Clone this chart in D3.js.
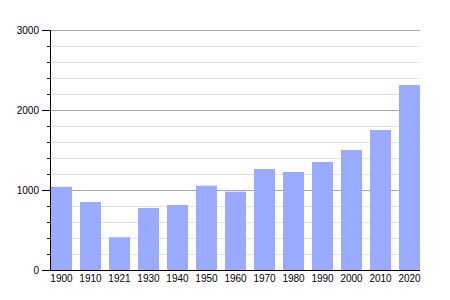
<!DOCTYPE html>
<html>
<head>
<meta charset="utf-8">
<script src="https://cdn.jsdelivr.net/npm/d3@7"></script>
<style>
  body { margin: 0; background: #fff; }
  text { font-family: "Liberation Sans", Arial, sans-serif; font-size: 10px; fill: #000; }
</style>
</head>
<body>
<svg id="chart" width="450" height="300"></svg>
<script>
const years = ['1900', '1910', '1921', '1930', '1940', '1950', '1960', '1970', '1980', '1990', '2000', '2010', '2020']
const population = [1040, 850, 410, 775, 812, 1054, 979, 1262, 1225, 1350, 1500, 1750, 2312]
const majorTicks = [0, 1000, 2000, 3000]

const svg = d3.select('#chart')
const plotLeft = 50, plotRight = 420, plotTop = 30, plotBottom = 270

const x = d3.scaleBand()
  .domain(years)
  .range([plotLeft + 1, plotRight])
  .paddingInner(0.276)
  .paddingOuter(0)

const y = d3.scaleLinear()
  .domain([0, 3000])
  .range([plotBottom, plotTop])

// minor grid every 200, major every 1000
const minor = d3.range(200, 3000, 200).filter(v => v % 1000 != 0)
svg.append('g')
  .selectAll('line')
  .data(minor)
  .join('line')
  .attr('x1', plotLeft).attr('x2', plotRight)
  .attr('y1', d => y(d) + 0.5).attr('y2', d => y(d) + 0.5)
  .attr('stroke', '#e2e2e2')

svg.append('g')
  .selectAll('line')
  .data(majorTicks.slice(1))
  .join('line')
  .attr('x1', plotLeft).attr('x2', plotRight)
  .attr('y1', d => y(d) + 0.5).attr('y2', d => y(d) + 0.5)
  .attr('stroke', '#a8a8a8')

// bars
svg.append('g')
  .selectAll('rect')
  .data(population)
  .join('rect')
  .attr('x', (d, i) => x(years[i]))
  .attr('y', d => y(d))
  .attr('width', x.bandwidth())
  .attr('height', d => plotBottom - y(d))
  .attr('fill', '#99aaff')

// y axis
svg.append('g')
  .selectAll('line')
  .data(minor)
  .join('line')
  .attr('x1', plotLeft - 3).attr('x2', plotLeft)
  .attr('y1', d => y(d) + 0.5).attr('y2', d => y(d) + 0.5)
  .attr('stroke', '#000')

const yAxis = svg.append('g')
yAxis.selectAll('line')
  .data(majorTicks)
  .join('line')
  .attr('x1', plotLeft - 8).attr('x2', plotLeft)
  .attr('y1', d => y(d) + 0.5).attr('y2', d => y(d) + 0.5)
  .attr('stroke', '#000')

yAxis.selectAll('text')
  .data(majorTicks)
  .join('text')
  .attr('x', plotLeft - 11)
  .attr('y', d => y(d))
  .attr('dy', '0.35em')
  .attr('text-anchor', 'end')
  .text(d => d)

svg.append('line')
  .attr('x1', plotLeft + 0.5).attr('x2', plotLeft + 0.5)
  .attr('y1', plotTop).attr('y2', plotBottom + 1)
  .attr('stroke', '#000')

svg.append('line')
  .attr('x1', plotLeft).attr('x2', plotRight)
  .attr('y1', plotBottom + 0.5).attr('y2', plotBottom + 0.5)
  .attr('stroke', '#000')

// x labels
svg.append('g')
  .selectAll('text')
  .data(years)
  .join('text')
  .attr('x', d => x(d) + x.bandwidth() / 2)
  .attr('y', plotBottom + 12)
  .attr('text-anchor', 'middle')
  .text(d => d)
</script>
</body>
</html>
